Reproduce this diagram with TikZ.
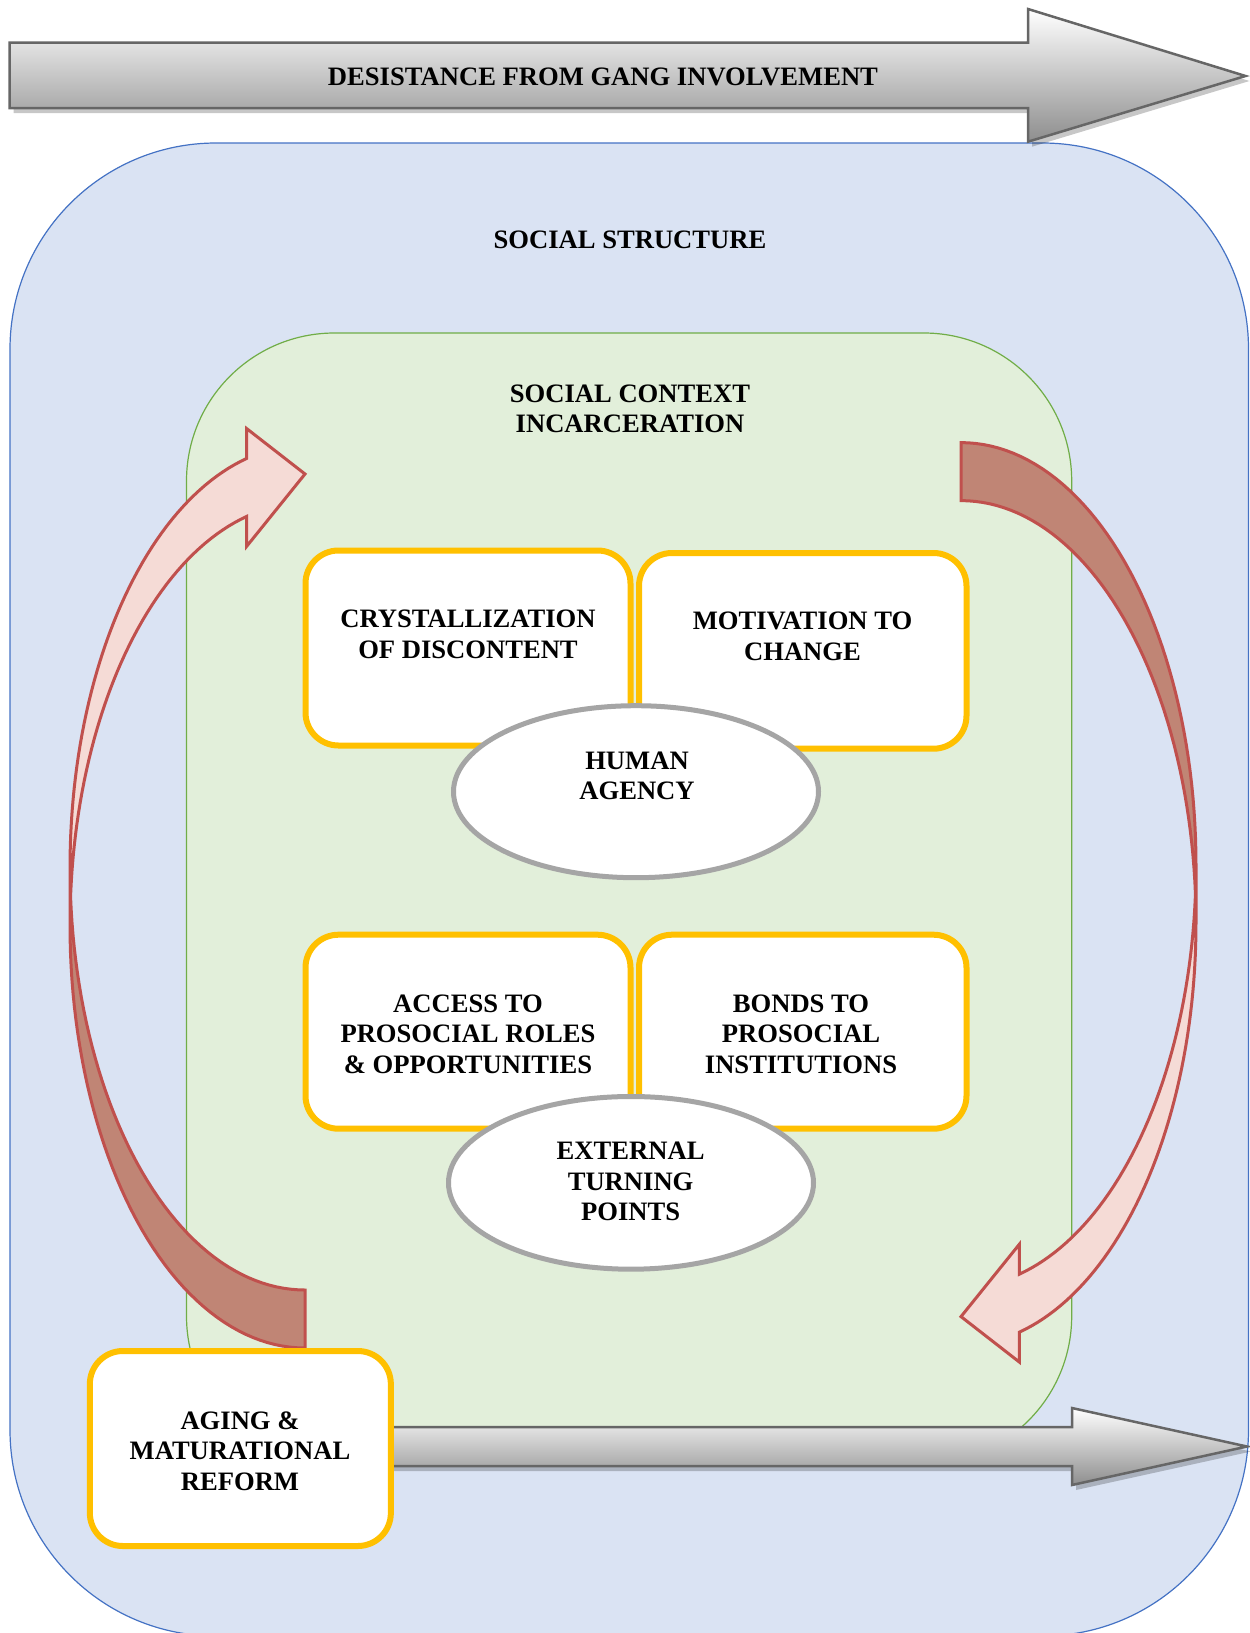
\documentclass[tikz,border=0pt]{standalone}
\usepackage{fontspec}
\setmainfont{Liberation Serif}
\usetikzlibrary{shapes.geometric}
\definecolor{bluefill}{HTML}{DAE3F3}
\definecolor{blueline}{HTML}{4472C4}
\definecolor{greenfill}{HTML}{E2EFDA}
\definecolor{greenline}{HTML}{70AD47}
\definecolor{gold}{HTML}{FFC000}
\definecolor{ellline}{HTML}{A5A5A5}
\definecolor{arrowline}{HTML}{C0504D}
\definecolor{arrowlight}{HTML}{F5DBD6}
\definecolor{arrowdark}{HTML}{C08575}
\definecolor{grayline}{HTML}{666666}
\definecolor{graydark}{HTML}{8E8E8E}
\begin{document}
\begin{tikzpicture}[x=1pt,y=-1pt,
  every node/.style={font=\bfseries\fontsize{26.6}{30.5}\selectfont, align=center, inner sep=0pt},
  ybox/.style={rectangle, draw=gold, line width=6pt, fill=white, rounded corners=33pt},
  agency/.style={ellipse, draw=ellline, line width=5pt, fill=white},
  bigarrow/.style={top color=white, bottom color=graydark, draw=grayline, line width=2.5pt, line join=miter},
  arrowshadow/.style={fill=black, opacity=0.22},
  curvelight/.style={fill=arrowlight},
  curvedark/.style={fill=arrowdark},
  curveline/.style={draw=arrowline, line width=3pt, line join=miter}
]
\useasboundingbox (0,0) rectangle (1250,1633);

% outer social structure
\path[fill=bluefill, draw=blueline, line width=1.2pt, rounded corners=206pt]
  (10,143) rectangle (1248.5,1636);
% inner social context
\path[fill=greenfill, draw=greenline, line width=1.2pt, rounded corners=148pt]
  (186.5,333) rectangle (1071.7,1464);

% top arrow
\fill[arrowshadow, shift={(4,5)}] (9.5,42.5) -- (1028,42.5) -- (1028,9) -- (1245.5,76) -- (1028,141.7) -- (1028,108) -- (9.5,108) -- cycle;
\shadedraw[bigarrow] (9.5,42.5) -- (1028,42.5) -- (1028,9) -- (1245.5,76) -- (1028,141.7) -- (1028,108) -- (9.5,108) -- cycle;
\node (desist) at (603,77) {DESISTANCE FROM GANG INVOLVEMENT};

\node (structure) at (630,240) {SOCIAL STRUCTURE};
\node (context) at (630,409) {SOCIAL CONTEXT\\INCARCERATION};

% top pair
\node[ybox, minimum width=325pt, minimum height=195pt] (crys) at (468,648) {};
\node[ybox, minimum width=327.5pt, minimum height=195.7pt] (motiv) at (802.75,650.85) {};
\node (crystxt) at (468,634.5) {CRYSTALLIZATION\\OF DISCONTENT};
\node (motivtxt) at (802.5,636.2) {MOTIVATION TO\\CHANGE};
\node[agency, minimum width=365pt, minimum height=172pt] (human) at (636,791.7) {};
\node (humantxt) at (637,776) {HUMAN\\AGENCY};

% bottom pair
\node[ybox, minimum width=325pt, minimum height=194pt] (access) at (468,1031.7) {};
\node[ybox, minimum width=327.5pt, minimum height=194pt] (bonds) at (802.75,1031.7) {};
\node (accesstxt) at (468,1034) {ACCESS TO\\PROSOCIAL ROLES\\\& OPPORTUNITIES};
\node (bondstxt) at (801,1034) {BONDS TO\\PROSOCIAL\\INSTITUTIONS};
\node[agency, minimum width=365pt, minimum height=172.7pt] (external) at (631,1182.85) {};
\node (externaltxt) at (630.6,1181.7) {EXTERNAL\\TURNING\\POINTS};

% left curved arrow
\fill[curvelight]
  plot[domain=180:255.63, samples=50] ({305+235*cos(\x)},{925.6+422.4*sin(\x)})
  -- (246.7,546.3) -- (305,474) -- (246.7,428.6)
  -- plot[domain=255.63:180, samples=50] ({305+235*cos(\x)},{867.6+422.4*sin(\x)})
  -- cycle;
\fill[curvedark]
  plot[domain=90:180, samples=50] ({305+235*cos(\x)},{867.6+422.4*sin(\x)})
  -- plot[domain=180:90, samples=50] ({305+235*cos(\x)},{925.6+422.4*sin(\x)})
  -- cycle;
\draw[curveline]
  plot[domain=180:255.63, samples=50] ({305+235*cos(\x)},{925.6+422.4*sin(\x)})
  -- (246.7,546.3) -- (305,474) -- (246.7,428.6)
  -- plot[domain=255.63:180, samples=50] ({305+235*cos(\x)},{867.6+422.4*sin(\x)})
  -- plot[domain=180:90, samples=50] ({305+235*cos(\x)},{925.6+422.4*sin(\x)})
  -- (305,1290)
  -- plot[domain=90:176.06, samples=50] ({305+235*cos(\x)},{867.6+422.4*sin(\x)});

% right curved arrow (same shape turned half round)
\begin{scope}[rotate around={180:(633,895.3)}]
\fill[curvelight]
  plot[domain=180:255.63, samples=50] ({305+235*cos(\x)},{925.6+422.4*sin(\x)})
  -- (246.7,546.3) -- (305,474) -- (246.7,428.6)
  -- plot[domain=255.63:180, samples=50] ({305+235*cos(\x)},{867.6+422.4*sin(\x)})
  -- cycle;
\fill[curvedark]
  plot[domain=90:180, samples=50] ({305+235*cos(\x)},{867.6+422.4*sin(\x)})
  -- plot[domain=180:90, samples=50] ({305+235*cos(\x)},{925.6+422.4*sin(\x)})
  -- cycle;
\draw[curveline]
  plot[domain=180:255.63, samples=50] ({305+235*cos(\x)},{925.6+422.4*sin(\x)})
  -- (246.7,546.3) -- (305,474) -- (246.7,428.6)
  -- plot[domain=255.63:180, samples=50] ({305+235*cos(\x)},{867.6+422.4*sin(\x)})
  -- plot[domain=180:90, samples=50] ({305+235*cos(\x)},{925.6+422.4*sin(\x)})
  -- (305,1290)
  -- plot[domain=90:176.06, samples=50] ({305+235*cos(\x)},{867.6+422.4*sin(\x)});
\end{scope}

% bottom arrow
\fill[arrowshadow, shift={(4,5)}] (380,1427) -- (1072,1427) -- (1072,1408) -- (1247,1446.5) -- (1072,1485) -- (1072,1466) -- (380,1466) -- cycle;
\shadedraw[bigarrow] (380,1427) -- (1072,1427) -- (1072,1408) -- (1247,1446.5) -- (1072,1485) -- (1072,1466) -- (380,1466) -- cycle;

% aging box
\node[ybox, minimum width=301pt, minimum height=195pt] (aging) at (240.35,1448.5) {};
\node (agingtxt) at (240,1451) {AGING \&\\MATURATIONAL\\REFORM};
\end{tikzpicture}
\end{document}
